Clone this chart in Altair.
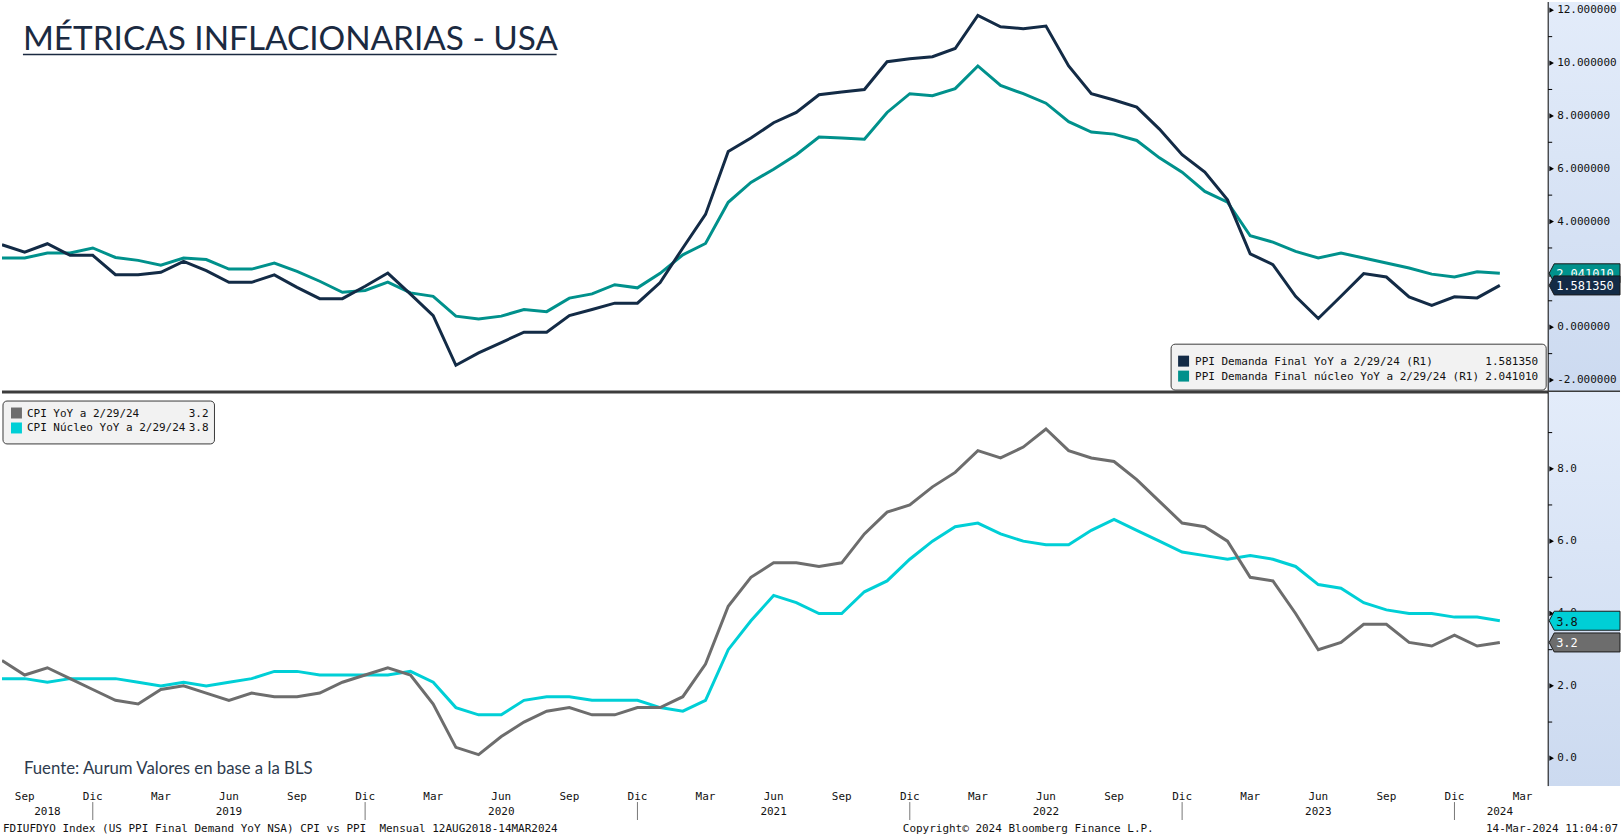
import altair as alt
import pandas as pd

# ---------------- data (month index 0 = Aug 2018 ... 66 = Feb 2024) ----------------
ppi_final = [3.12, 2.84, 3.16, 2.72, 2.72, 1.99, 1.99, 2.08, 2.49, 2.14, 1.70, 1.70,
             1.98, 1.51, 1.08, 1.08, 1.55, 2.05, 1.25, 0.44, -1.44, -0.97, -0.58, -0.19,
             -0.19, 0.44, 0.67, 0.91, 0.91, 1.69, 3.00, 4.27, 6.65, 7.16, 7.74, 8.13,
             8.80, 8.90, 9.00, 10.05, 10.16, 10.24, 10.55, 11.80, 11.37, 11.30, 11.40, 9.89,
             8.84, 8.60, 8.33, 7.50, 6.53, 5.87, 4.82, 2.78, 2.37, 1.17, 0.33, 1.17,
             2.03, 1.90, 1.15, 0.83, 1.15, 1.11, 1.58135]
ppi_core = [2.62, 2.62, 2.81, 2.81, 3.00, 2.64, 2.53, 2.35, 2.62, 2.56, 2.20, 2.20,
            2.43, 2.11, 1.74, 1.32, 1.39, 1.71, 1.30, 1.17, 0.42, 0.31, 0.42, 0.67,
            0.59, 1.10, 1.26, 1.61, 1.49, 2.04, 2.74, 3.17, 4.73, 5.48, 5.98, 6.53,
            7.20, 7.16, 7.12, 8.13, 8.84, 8.76, 9.03, 9.89, 9.15, 8.84, 8.48, 7.78,
            7.39, 7.31, 7.07, 6.41, 5.87, 5.14, 4.73, 3.46, 3.22, 2.87, 2.62, 2.81,
            2.62, 2.43, 2.24, 2.01, 1.90, 2.10, 2.04101]
cpi = [2.7, 2.3, 2.5, 2.2, 1.9,
       1.6, 1.5, 1.9, 2.0, 1.8, 1.6, 1.8, 1.7, 1.7, 1.8, 2.1, 2.3,
       2.5, 2.3, 1.5, 0.3, 0.1, 0.6, 1.0, 1.3, 1.4, 1.2, 1.2, 1.4,
       1.4, 1.7, 2.6, 4.2, 5.0, 5.4, 5.4, 5.3, 5.4, 6.2, 6.8, 7.0,
       7.5, 7.9, 8.5, 8.3, 8.6, 9.1, 8.5, 8.3, 8.2, 7.7, 7.1, 6.5,
       6.4, 6.0, 5.0, 4.9, 4.0, 3.0, 3.2, 3.7, 3.7, 3.2, 3.1, 3.4,
       3.1, 3.2]
cpi_core = [2.2, 2.2, 2.1, 2.2, 2.2,
            2.2, 2.1, 2.0, 2.1, 2.0, 2.1, 2.2, 2.4, 2.4, 2.3, 2.3, 2.3,
            2.3, 2.4, 2.1, 1.4, 1.2, 1.2, 1.6, 1.7, 1.7, 1.6, 1.6, 1.6,
            1.4, 1.3, 1.6, 3.0, 3.8, 4.5, 4.3, 4.0, 4.0, 4.6, 4.9, 5.5,
            6.0, 6.4, 6.5, 6.2, 6.0, 5.9, 5.9, 6.3, 6.6, 6.3, 6.0, 5.7,
            5.6, 5.5, 5.6, 5.5, 5.3, 4.8, 4.7, 4.3, 4.1, 4.0, 4.0, 3.9,
            3.9, 3.8]
months = list(range(len(cpi)))

ppi_names = ["PPI Demanda Final YoY a 2/29/24 (R1)", "PPI Demanda Final núcleo YoY a 2/29/24 (R1)"]
ppi_last = ["1.581350", "2.041010"]
cpi_names = ["CPI YoY a 2/29/24", "CPI Núcleo YoY a 2/29/24"]
cpi_last = ["3.2", "3.8"]

top_ticks = [-2, 0, 2, 4, 6, 8, 10, 12]
top_tick_labels = ["-2.000000", "0.000000", "2.000000", "4.000000", "6.000000",
                   "8.000000", "10.000000", "12.000000"]
top_minor = [-1, 1, 3, 5, 7, 9, 11]
bot_ticks = [0, 2, 4, 6, 8]
bot_tick_labels = ["0.0", "2.0", "4.0", "6.0", "8.0"]
bot_minor = [1, 3, 5, 7, 9]

month_pos = list(range(1, 68, 3))
month_text = ["Sep", "Dic", "Mar", "Jun", "Sep", "Dic", "Mar", "Jun", "Sep", "Dic", "Mar", "Jun",
              "Sep", "Dic", "Mar", "Jun", "Sep", "Dic", "Mar", "Jun", "Sep", "Dic", "Mar"]
year_pos = [2, 10, 22, 34, 46, 58, 66]
year_text = ["2018", "2019", "2020", "2021", "2022", "2023", "2024"]
year_sep = [4, 16, 28, 40, 52, 64]

title_text = "MÉTRICAS INFLACIONARIAS - USA"
source_text = "Fuente: Aurum Valores en base a la BLS"
footer_left = "FDIUFDYO Index (US PPI Final Demand YoY NSA) CPI vs PPI\u00a0 Mensual 12AUG2018-14MAR2024"
footer_mid = "Copyright© 2024 Bloomberg Finance L.P."
footer_right = "14-Mar-2024 11:04:07"

# ---------------- styling ----------------
W = 1550
FULL_W = 1622
H_TOP = 391
H_BOT = 395
C_PPI = "#132B46"
C_PPIC = "#00918C"
C_CPI = "#6D6D6D"
C_CPIC = "#00CFD6"
MONO = "DejaVu Sans Mono"
FS = 11
GEO = "Lato"

xs = alt.Scale(domain=[0, 68.13], nice=False, zero=False)
ys_top = alt.Scale(domain=[-2.455, 12.31], nice=False, zero=False)
ys_bot = alt.Scale(domain=[-0.77, 10.12], nice=False, zero=False)

one = pd.DataFrame({"k": [0]})
BOX = "M -1 0 L -0.859 -0.268 L 1 -0.268 L 1 0.268 L -0.859 0.268 Z"


def bg(h):
    grad = alt.Gradient(gradient="linear",
                        stops=[alt.GradientStop(color="#E3ECFA", offset=0),
                               alt.GradientStop(color="#CCDAF0", offset=1)],
                        x1=0, x2=0, y1=0, y2=1)
    return alt.Chart(one).mark_rect(fill=grad).encode(
        x=alt.value(W), x2=alt.value(FULL_W), y=alt.value(0), y2=alt.value(h))


def series(vals, color, ys, axis=None):
    df = pd.DataFrame({"m": months, "v": vals})
    return alt.Chart(df).mark_line(color=color, strokeWidth=3, clip=True).encode(
        x=alt.X("m:Q", scale=xs, axis=axis), y=alt.Y("v:Q", scale=ys, axis=None))


def yaxis(h, ticks, labels, minor, ys):
    df = pd.DataFrame({"v": ticks, "t": labels})
    dm = pd.DataFrame({"v": minor})
    line = alt.Chart(one).mark_rule(color="black", strokeWidth=1).encode(
        x=alt.value(W), y=alt.value(0), y2=alt.value(h))
    mn = alt.Chart(dm).mark_rule(color="black", strokeWidth=1).encode(
        x=alt.value(W), x2=alt.value(W + 4), y=alt.Y("v:Q", scale=ys, axis=None))
    tri = alt.Chart(df).mark_point(shape="triangle-right", filled=True, color="black",
                                   size=28, opacity=1).encode(
        x=alt.value(W + 3.5), y=alt.Y("v:Q", scale=ys, axis=None))
    txt = alt.Chart(df).mark_text(align="left", baseline="middle", font=MONO,
                                  fontSize=FS, color="#111111").encode(
        x=alt.value(W + 9), y=alt.Y("v:Q", scale=ys, axis=None), text="t:N")
    return [line, mn, tri, txt]


def valbox(v, t, fill, tcolor, ys):
    df = pd.DataFrame({"v": [v], "t": [t]})
    b = alt.Chart(df).mark_point(shape=BOX, size=71 * 71, fill=fill, stroke="#1A1A1A",
                                 strokeWidth=1, opacity=1, fillOpacity=1).encode(
        x=alt.value(1586.5), y=alt.Y("v:Q", scale=ys, axis=None))
    tx = alt.Chart(df).mark_text(align="left", baseline="middle", font=MONO, fontSize=FS + 1,
                                 color=tcolor, dy=1).encode(
        x=alt.value(1558), y=alt.Y("v:Q", scale=ys, axis=None), text="t:N")
    return [b, tx]


def legend(x0, x1, y0, y1, names, vals, colors, sq_x, txt_x, val_x, rows_y):
    out = [alt.Chart(one).mark_rect(fill="#F2F2F2", stroke="#3A3A3A", strokeWidth=1,
                                    cornerRadius=4).encode(
        x=alt.value(x0), x2=alt.value(x1), y=alt.value(y0), y2=alt.value(y1))]
    for n, v, c, ry in zip(names, vals, colors, rows_y):
        out.append(alt.Chart(one).mark_rect(fill=c).encode(
            x=alt.value(sq_x), x2=alt.value(sq_x + 11), y=alt.value(ry - 5.5), y2=alt.value(ry + 5.5)))
        out.append(alt.Chart(one).mark_text(text=n, align="left", baseline="middle", font=MONO,
                                            fontSize=FS, color="#111111").encode(
            x=alt.value(txt_x), y=alt.value(ry + 0.5)))
        out.append(alt.Chart(one).mark_text(text=v, align="right", baseline="middle", font=MONO,
                                            fontSize=FS, color="#111111").encode(
            x=alt.value(val_x), y=alt.value(ry + 0.5)))
    return out


def txt(s, x, y, size, font, color, align="left", baseline="middle"):
    return alt.Chart(one).mark_text(text=s, align=align, baseline=baseline, font=font,
                                    fontSize=size, color=color).encode(
        x=alt.value(x), y=alt.value(y))


# ---------------- top panel ----------------
top_layers = [bg(H_TOP),
              series(ppi_core, C_PPIC, ys_top),
              series(ppi_final, C_PPI, ys_top)]
top_layers += yaxis(H_TOP, top_ticks, top_tick_labels, top_minor, ys_top)
top_layers += valbox(ppi_core[-1], ppi_last[1], C_PPIC, "#FFFFFF", ys_top)
top_layers += valbox(ppi_final[-1], ppi_last[0], C_PPI, "#FFFFFF", ys_top)
top_layers += legend(1172, 1548, 343, 389, ppi_names, ppi_last, [C_PPI, C_PPIC],
                     1179, 1196, 1540, [360, 375])
top_layers.append(txt(title_text, 21, 48, 33.4, GEO, "#1B2A41", baseline="alphabetic"))
top_layers.append(alt.Chart(one).mark_rule(color="#1B2A41", strokeWidth=1.5).encode(
    x=alt.value(21), x2=alt.value(556), y=alt.value(52.5)))
top_layers.append(alt.Chart(one).mark_rule(color="#3C3C3C", strokeWidth=3).encode(
    x=alt.value(0), x2=alt.value(FULL_W), y=alt.value(H_TOP)))
top = alt.layer(*top_layers).properties(width=W, height=H_TOP)

# ---------------- bottom panel ----------------
xaxis = alt.Axis(values=list(range(0, 69)), labels=False, ticks=True, tickSize=4,
                 tickColor="black", domainColor="black", grid=False, title=None)
bot_layers = [bg(H_BOT),
              series(cpi_core, C_CPIC, ys_bot),
              series(cpi, C_CPI, ys_bot, axis=xaxis)]
bot_layers += yaxis(H_BOT, bot_ticks, bot_tick_labels, bot_minor, ys_bot)
bot_layers += valbox(cpi_core[-1], cpi_last[1], C_CPIC, "#111111", ys_bot)
bot_layers += valbox(cpi[-1], cpi_last[0], C_CPI, "#FFFFFF", ys_bot)
bot_layers += legend(1, 213, 9, 52, cpi_names, cpi_last, [C_CPI, C_CPIC],
                     9, 25, 207, [21, 36])
bot_layers.append(txt(source_text, 22, 383, 16.8, GEO, "#2E3B4E", baseline="alphabetic"))

mdf = pd.DataFrame({"m": month_pos, "t": month_text})
bot_layers.append(alt.Chart(mdf).mark_text(font=MONO, fontSize=FS, color="#111111",
                                           baseline="middle").encode(
    x=alt.X("m:Q", scale=xs, axis=None), y=alt.value(H_BOT + 11), text="t:N"))
ydf = pd.DataFrame({"m": year_pos, "t": year_text})
bot_layers.append(alt.Chart(ydf).mark_text(font=MONO, fontSize=FS, color="#111111",
                                           baseline="middle").encode(
    x=alt.X("m:Q", scale=xs, axis=None), y=alt.value(H_BOT + 26), text="t:N"))
sdf = pd.DataFrame({"m": year_sep})
bot_layers.append(alt.Chart(sdf).mark_rule(color="#777777", strokeWidth=1).encode(
    x=alt.X("m:Q", scale=xs, axis=None), y=alt.value(H_BOT + 16), y2=alt.value(H_BOT + 34)))
bot_layers.append(txt(footer_left, 1, H_BOT + 43, FS, MONO, "#111111"))
bot_layers.append(txt(footer_mid, 903, H_BOT + 43, FS, MONO, "#111111"))
bot_layers.append(txt(footer_right, 1620, H_BOT + 43, FS, MONO, "#111111", align="right"))
bot = alt.layer(*bot_layers).properties(width=W, height=H_BOT)

chart = alt.vconcat(top, bot, spacing=0, bounds="flush").properties(
    padding=0, background="#FFFFFF").configure_view(strokeWidth=0)

chart.save("out.html", embed_options={"renderer": "svg", "actions": False})
